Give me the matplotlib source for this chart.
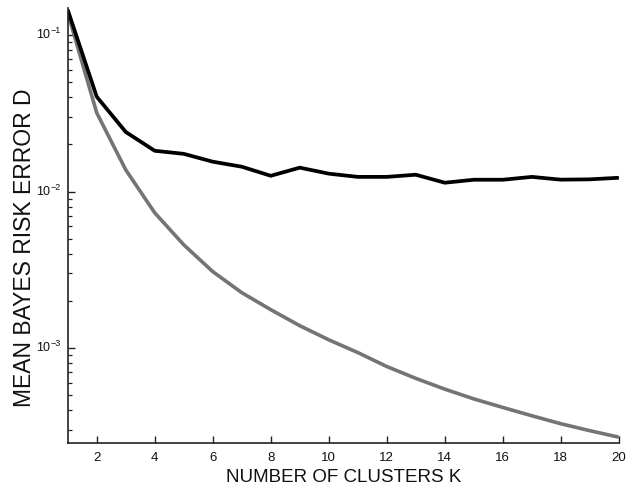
import matplotlib
matplotlib.use("Agg")
import matplotlib.pyplot as plt
from matplotlib.ticker import LogLocator, NullFormatter, FixedLocator
from matplotlib.transforms import offset_copy

plt.rcParams['font.family'] = ['Liberation Sans', 'DejaVu Sans']

# Number of clusters
clusters = list(range(1, 21))

# Mean Bayes risk error, empirical (black) and theoretical (gray)
error_empirical = [0.1445, 0.0403, 0.0240, 0.0182, 0.0174, 0.0155, 0.0144,
                   0.0126, 0.0142, 0.0130, 0.0124, 0.0124, 0.0128, 0.01138,
                   0.01189, 0.01189, 0.0124, 0.0119, 0.01196, 0.01224]
error_theory = [0.138, 0.0318, 0.01376, 0.00731, 0.00457, 0.00308, 0.00226,
                0.00176, 0.00139, 0.00113, 0.000937, 0.000763, 0.000641,
                0.000547, 0.000474, 0.000418, 0.000370, 0.000329, 0.000297,
                0.000270]

xtick_values = list(range(2, 21, 2))
ytick_exponents = [-3, -2, -1]

text_color = '#111111'
axis_color = '#222222'

fig = plt.figure(figsize=(6.27, 4.86), dpi=100)
ax = fig.add_axes([0.108, 0.088, 0.879, 0.896])

ax.plot(clusters, error_theory, color='#747474', lw=2.6, solid_capstyle='butt')
ax.plot(clusters, error_empirical, color='#000000', lw=2.7, solid_capstyle='butt')

ax.set_yscale('log')
ax.set_xlim(1, 20)
ax.set_ylim(2.47e-4, 0.149)
ax.set_xticks(xtick_values)
ax.set_xticklabels([str(v) for v in xtick_values])
ax.yaxis.set_major_locator(FixedLocator([10.0 ** e for e in ytick_exponents]))
ax.yaxis.set_major_formatter(NullFormatter())
ax.yaxis.set_minor_locator(LogLocator(base=10, subs=range(2, 10)))
ax.yaxis.set_minor_formatter(NullFormatter())

for side in ('top', 'right'):
    ax.spines[side].set_visible(False)
for side in ('left', 'bottom'):
    ax.spines[side].set_color(axis_color)
    ax.spines[side].set_linewidth(1.2)

ax.tick_params(which='major', direction='in', length=5, width=1.0,
               color=axis_color, labelsize=9.5, labelcolor=text_color, pad=6.5)
ax.tick_params(which='minor', direction='in', length=3, width=0.9,
               color=axis_color)

# Decade labels on the log axis: "10" with a small raised exponent
ytrans = ax.get_yaxis_transform()
fig.canvas.draw()
renderer = fig.canvas.get_renderer()
for e in ytick_exponents:
    v = 10.0 ** e
    sup = ax.text(0, v, '\u2212' + str(abs(e)), fontsize=6.5, color=text_color,
                  ha='right', va='baseline',
                  transform=offset_copy(ytrans, fig=fig, x=-6.5, y=2, units='dots'))
    bb = sup.get_window_extent(renderer=renderer)
    ax.text(0, v, '10', fontsize=9, color=text_color, ha='right', va='center',
            transform=offset_copy(ytrans, fig=fig, x=-6.5 - bb.width - 0.5, y=0,
                                  units='dots'))

ax.set_xlabel('NUMBER OF CLUSTERS K', fontsize=13.5, color=text_color,
              va='baseline')
ax.xaxis.set_label_coords(0.501, -0.0882)
ax.set_ylabel('MEAN BAYES RISK ERROR D', fontsize=16.5, color=text_color,
              va='center')
ax.yaxis.set_label_coords(-0.079, 0.449)

fig.savefig('out.png', dpi=100)
